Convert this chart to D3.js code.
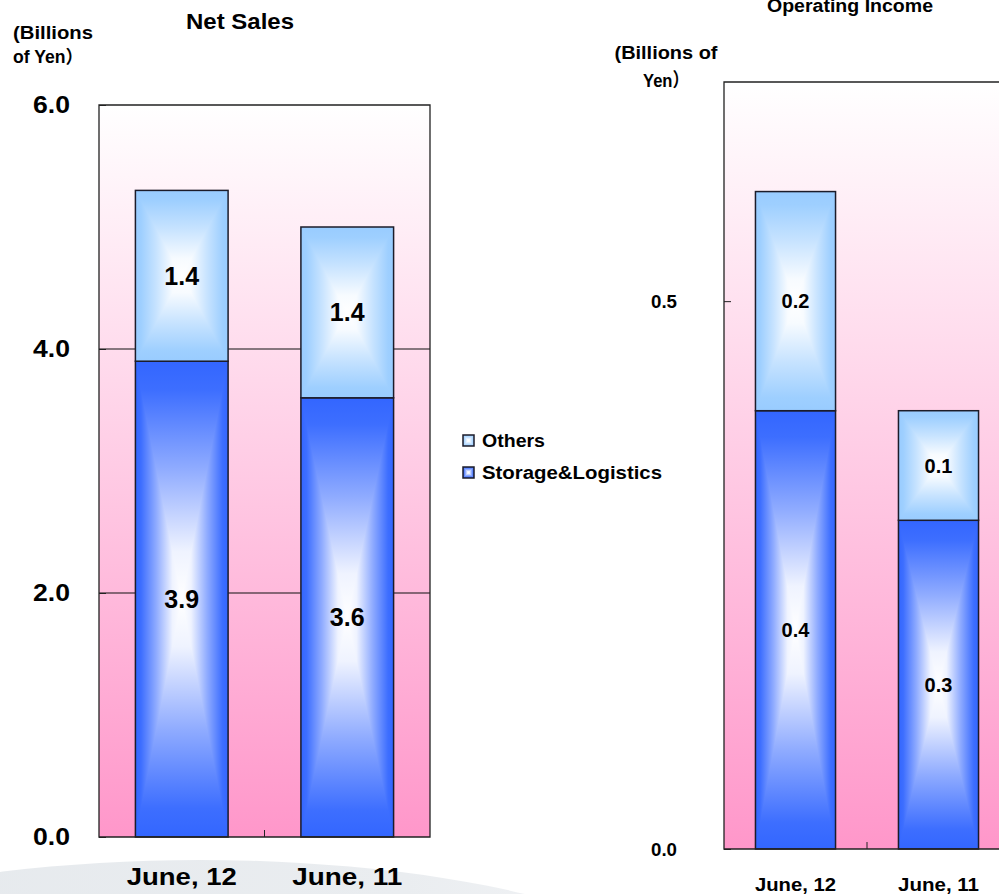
<!DOCTYPE html>
<html>
<head>
<meta charset="utf-8">
<script src="https://cdn.jsdelivr.net/npm/d3@7"></script>
<style>
  html, body { margin: 0; padding: 0; background: #ffffff; }
  svg { display: block; }
  text { font-family: "Liberation Sans", Arial, "Noto Sans CJK JP", sans-serif; font-weight: bold; fill: #000; }
</style>
</head>
<body>
<svg id="chart" width="999" height="894"></svg>
<script>
// Categories and values (billions of yen)
const categories = ["June, 12", "June, 11"];
const seriesNames = ["Others", "Storage&Logistics"];
const salesStorage = [3.9, 3.6];
const salesOthers = [1.4, 1.4];
const incomeStorage = [0.4, 0.3];
const incomeOthers = [0.2, 0.1];
const salesTicks = [0, 2, 4, 6];
const salesTickLabels = ["0.0", "2.0", "4.0", "6.0"];
const incomeTicks = [0, 0.5];
const incomeTickLabels = ["0.0", "0.5"];

const svg = d3.select("#chart");
const defs = svg.append("defs");

// soft grey swoosh behind the lower-left area
const swoosh = defs.append("linearGradient").attr("id", "swoosh").attr("x1", 0).attr("x2", 1).attr("y1", 0).attr("y2", 0);
swoosh.append("stop").attr("offset", 0).attr("stop-color", "#e4e8ec");
swoosh.append("stop").attr("offset", 0.7).attr("stop-color", "#eaedf0");
swoosh.append("stop").attr("offset", 1).attr("stop-color", "#f5f6f8");
svg.append("ellipse").attr("cx", 200).attr("cy", 1012).attr("rx", 515).attr("ry", 152).attr("fill", "url(#swoosh)");

// plot-area background: white fading to pink
const bg = defs.append("linearGradient").attr("id", "plotBg").attr("x1", 0).attr("x2", 0).attr("y1", 0).attr("y2", 1);
bg.append("stop").attr("offset", 0).attr("stop-color", "#ffffff");
bg.append("stop").attr("offset", 1).attr("stop-color", "#ff97ca");

// rectangular "from centre" fills: edge colour toward a white core
function ramp(edge) {
  const mix = d3.interpolateRgb(edge, "#ffffff");
  return [[0, mix(0)], [0.12, mix(0.05)], [0.45, mix(0.45)], [0.8, mix(0.92)], [1, mix(1)]];
}
function makeFills(id, edge) {
  const r = ramp(edge);
  const v = defs.append("linearGradient").attr("id", id + "V").attr("x1", 0).attr("x2", 0).attr("y1", 0).attr("y2", 1);
  r.forEach(s => v.append("stop").attr("offset", s[0] / 2).attr("stop-color", s[1]));
  r.slice().reverse().forEach(s => v.append("stop").attr("offset", 1 - s[0] / 2).attr("stop-color", s[1]));
  const l = defs.append("linearGradient").attr("id", id + "L").attr("x1", 0).attr("x2", 1).attr("y1", 0).attr("y2", 0);
  r.forEach(s => l.append("stop").attr("offset", s[0]).attr("stop-color", s[1]));
  const rr = defs.append("linearGradient").attr("id", id + "R").attr("x1", 0).attr("x2", 1).attr("y1", 0).attr("y2", 0);
  r.slice().reverse().forEach(s => rr.append("stop").attr("offset", 1 - s[0]).attr("stop-color", s[1]));
}
const seriesColors = { "Others": "#99ccff", "Storage&Logistics": "#3366ff" };
makeFills("oth", seriesColors["Others"]);
makeFills("sto", seriesColors["Storage&Logistics"]);

function gradBox(g, x0, y0, w, h, id) {
  const x1 = x0 + w, y1 = y0 + h, cx = x0 + w / 2, cy = y0 + h / 2;
  g.append("rect").attr("x", x0).attr("y", y0).attr("width", w).attr("height", h).attr("fill", `url(#${id}V)`);
  g.append("path").attr("d", `M${x0},${y0}L${cx},${cy}L${x0},${y1}Z`).attr("fill", `url(#${id}L)`);
  g.append("path").attr("d", `M${x1},${y0}L${x1},${y1}L${cx},${cy}Z`).attr("fill", `url(#${id}R)`);
  g.append("rect").attr("x", x0).attr("y", y0).attr("width", w).attr("height", h)
    .attr("fill", "none").attr("stroke", "#1c1c2a").attr("stroke-width", 1.5);
}

function drawPanel(cfg) {
  const g = svg.append("g");
  const x = d3.scaleBand().domain(categories).range(cfg.xRange).paddingInner(0.44).paddingOuter(0.22);
  const y = d3.scaleLinear().domain(cfg.yDomain).range(cfg.yRange);
  const [left, right] = cfg.xRange;
  const [bottom, top] = cfg.yRange;

  g.append("rect").attr("x", left).attr("y", top).attr("width", right - left).attr("height", bottom - top)
    .attr("fill", "url(#plotBg)");

  // horizontal gridlines
  g.selectAll("line.grid").data(cfg.grid).join("line").attr("class", "grid")
    .attr("x1", left).attr("x2", right).attr("y1", d => y(d)).attr("y2", d => y(d))
    .attr("stroke", "#111").attr("stroke-width", 1.2);

  // category divider tick on the baseline
  g.selectAll("line.cdiv").data(categories.slice(1)).join("line").attr("class", "cdiv")
    .attr("x1", d => x(d) - x.step() * x.paddingInner() / 2).attr("x2", d => x(d) - x.step() * x.paddingInner() / 2)
    .attr("y1", bottom).attr("y2", bottom - 7).attr("stroke", "#222");

  // stacked bars
  categories.forEach((c, i) => {
    const s = cfg.storage[i], o = cfg.others[i];
    const bx = x(c), bw = x.bandwidth();
    gradBox(g, bx, y(s), bw, y(0) - y(s), "sto");
    gradBox(g, bx, y(s + o), bw, y(s) - y(s + o), "oth");
    g.append("text").attr("x", bx + bw / 2).attr("y", (y(0) + y(s)) / 2).attr("dy", "0.36em")
      .attr("text-anchor", "middle").style("font-size", cfg.valueSize + "px").text(s.toFixed(1));
    g.append("text").attr("x", bx + bw / 2).attr("y", (y(s) + y(s + o)) / 2).attr("dy", "0.36em")
      .attr("text-anchor", "middle").style("font-size", cfg.valueSize + "px").text(o.toFixed(1));
  });

  // frame
  g.append("path").attr("d", `M${left},${top}H${right}V${bottom}H${left}Z`)
    .attr("fill", "none").attr("stroke", "#222").attr("stroke-width", 1.3);

  // y axis
  const ya = g.append("g").attr("transform", `translate(${left},0)`)
    .call(d3.axisLeft(y).tickValues(cfg.ticks).tickFormat((d, i) => cfg.tickLabels[i])
      .tickSizeInner(-7).tickSizeOuter(0).tickPadding(cfg.tickPad));
  ya.select(".domain").remove();
  ya.selectAll(".tick line").attr("stroke", "#222");
  ya.selectAll(".tick text").style("font-size", cfg.tickSize + "px").style("font-family", null)
    .attr("textLength", cfg.tickLen).attr("lengthAdjust", "spacingAndGlyphs");

  // x axis labels
  const xa = g.append("g").attr("transform", `translate(0,${bottom})`)
    .call(d3.axisBottom(x).tickSize(0).tickPadding(cfg.xPad));
  xa.select(".domain").remove();
  xa.selectAll(".tick text").style("font-size", cfg.xSize + "px").style("font-family", null)
    .attr("textLength", cfg.xLen).attr("lengthAdjust", "spacingAndGlyphs");

  // titles
  cfg.texts.forEach(t => {
    g.append("text").attr("x", t.x).attr("y", t.y).attr("text-anchor", t.anchor || "middle")
      .style("font-size", t.size + "px").attr("textLength", t.len).attr("lengthAdjust", "spacingAndGlyphs")
      .text(t.text);
  });
}

drawPanel({
  xRange: [99, 430], yDomain: [0, 6], yRange: [837, 105],
  storage: salesStorage, others: salesOthers, grid: [2, 4],
  ticks: salesTicks, tickLabels: salesTickLabels,
  tickSize: 24, tickLen: 37, tickPad: 29,
  xSize: 23, xLen: 110, xPad: 32,
  valueSize: 25,
  texts: [
    { text: "Net Sales", x: 240, y: 29, size: 22, len: 108 },
    { text: "(Billions", x: 13, y: 39, size: 18, len: 80, anchor: "start" },
    { text: "of Yen）", x: 13, y: 63, size: 18, len: 70, anchor: "start" }
  ]
});

drawPanel({
  xRange: [724, 1010], yDomain: [0, 0.7], yRange: [849, 82],
  storage: incomeStorage, others: incomeOthers, grid: [],
  ticks: incomeTicks, tickLabels: incomeTickLabels,
  tickSize: 19, tickLen: 26, tickPad: 47,
  xSize: 19, xLen: 81, xPad: 29,
  valueSize: 20,
  texts: [
    { text: "Operating Income", x: 850, y: 12, size: 18, len: 166 },
    { text: "(Billions of", x: 666, y: 59, size: 19, len: 103 },
    { text: "Yen）", x: 666, y: 87, size: 19, len: 46 }
  ]
});

// legend
const legend = svg.append("g").attr("transform", "translate(463,435)");
const legendRows = legend.selectAll("g").data(seriesNames).join("g")
  .attr("transform", (d, i) => `translate(0,${i * 32})`);
legendRows.each(function (d) {
  gradBox(d3.select(this), 0, 0, 11, 11, d === "Others" ? "oth" : "sto");
});
legendRows.append("text").attr("x", 19).attr("y", 12).style("font-size", "18px")
  .attr("textLength", d => d === "Others" ? 63 : 180).attr("lengthAdjust", "spacingAndGlyphs")
  .text(d => d);
</script>
</body>
</html>
